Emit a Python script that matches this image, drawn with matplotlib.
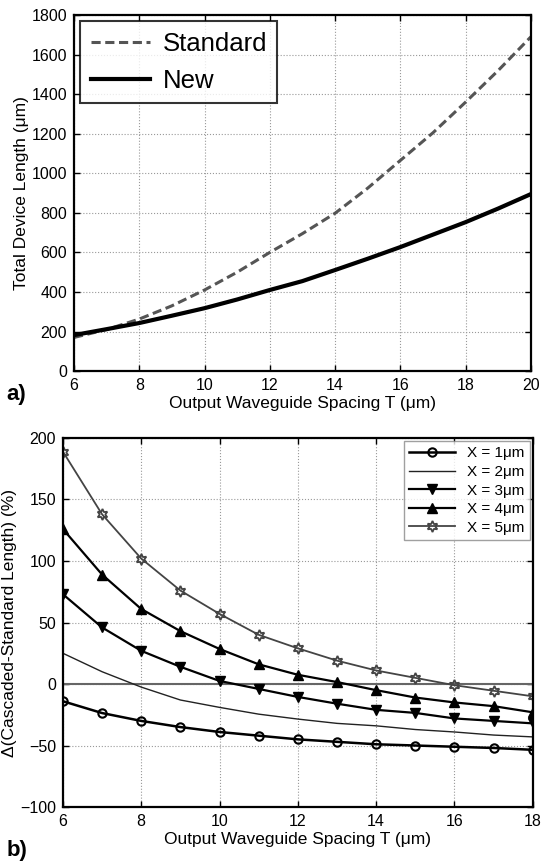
import matplotlib
matplotlib.use("Agg")
import matplotlib.pyplot as plt
import numpy as np

plt.rcParams['font.family'] = ['Liberation Sans', 'DejaVu Sans']

# ---- Panel a data ----
T_a = [6, 7, 8, 9, 10, 11, 12, 13, 14, 15, 16, 17, 18, 19, 20]
standard = [170, 210, 263, 330, 410, 500, 600, 695, 798, 925, 1065, 1205, 1360, 1520, 1690]
new = [182, 212, 243, 280, 318, 362, 410, 455, 511, 568, 627, 690, 753, 822, 895]

# ---- Panel b data ----
T_b = [6, 7, 8, 9, 10, 11, 12, 13, 14, 15, 16, 17, 18]
x1 = [-14, -23.6, -30, -35, -39, -42, -45, -47, -49, -50, -51, -52, -53.5]
x2 = [25, 10, -2.5, -13, -19, -24.5, -28.5, -32, -34, -37, -39, -41.5, -43]
x3 = [73, 46, 27, 14, 2.5, -4, -10.5, -16, -21, -23.5, -28, -30, -32]
x4 = [126, 89, 61, 43, 28.5, 16, 7.5, 1.6, -5, -11, -15, -18, -23]
x5 = [189, 138, 102, 76, 57, 40, 29, 19, 11, 5, -1, -5.5, -10]
labels_b = ['X = 1μm', 'X = 2μm', 'X = 3μm', 'X = 4μm', 'X = 5μm']

fig = plt.figure(figsize=(5.42, 8.61), dpi=100)

def style(ax):
    ax.tick_params(direction='in', top=True, right=True, labelsize=11.5, length=4, width=1, pad=5)
    ax.grid(True, linestyle=':', color='#999999', linewidth=0.8)
    for s in ax.spines.values():
        s.set_linewidth(1.6)

# Panel a
ax1 = fig.add_axes([0.1365, 0.569, 0.843, 0.4135])
ax1.plot(T_a, standard, linestyle=(0, (3, 1.5)), color='#555555', lw=2.2, label='Standard')
ax1.plot(T_a, new, color='black', lw=3, label='New')
ax1.set_xlim(6, 20)
ax1.set_ylim(0, 1800)
ax1.set_xticks(range(6, 21, 2))
ax1.set_yticks(range(0, 1801, 200))
style(ax1)
ax1.set_xlabel('Output Waveguide Spacing T (μm)', fontsize=12.5, labelpad=2)
ax1.set_ylabel('Total Device Length (μm)', fontsize=12.5, labelpad=2)
leg1 = ax1.legend(loc='upper left', fontsize=18.5, frameon=True, fancybox=False,
                  edgecolor='black', handlelength=2.3, borderpad=0.4, labelspacing=0.5,
                  handletextpad=0.5, borderaxespad=0.25)
leg1.get_frame().set_linewidth(1.5)
fig.text(0.012, 0.535, 'a)', fontsize=16, fontweight='bold')

# Panel b
ax2 = fig.add_axes([0.116, 0.0627, 0.867, 0.4286])
ax2.axhline(0, color='#666666', lw=1.5)
ax2.plot(T_b, x1, color='black', lw=1.8, marker='o', ms=6, mfc='none', mew=1.5, label=labels_b[0])
ax2.plot(T_b, x2, color='#222222', lw=1.0, label=labels_b[1])
ax2.plot(T_b, x3, color='black', lw=1.6, marker='v', ms=7, mfc='black', label=labels_b[2])
ax2.plot(T_b, x4, color='black', lw=1.6, marker='^', ms=7, mfc='black', label=labels_b[3])
ax2.plot(T_b, x5, color='#444444', lw=1.3, marker=(6, 1, 0), ms=8, mfc='none', mew=1.3, label=labels_b[4])
ax2.set_xlim(6, 18)
ax2.set_ylim(-100, 200)
ax2.set_xticks(range(6, 19, 2))
ax2.set_yticks(range(-100, 201, 50))
style(ax2)
ax2.set_xlabel('Output Waveguide Spacing T (μm)', fontsize=12.5, labelpad=2)
ax2.set_ylabel('Δ(Cascaded-Standard Length) (%)', fontsize=12.5, labelpad=2)
leg2 = ax2.legend(loc='upper right', fontsize=11, frameon=True, fancybox=False,
                  edgecolor='#888888', handlelength=3.0, borderpad=0.35, labelspacing=0.3,
                  borderaxespad=0.2)
leg2.get_frame().set_linewidth(1.0)
fig.text(0.012, 0.006, 'b)', fontsize=16, fontweight='bold')

fig.savefig('out.png', dpi=100)
